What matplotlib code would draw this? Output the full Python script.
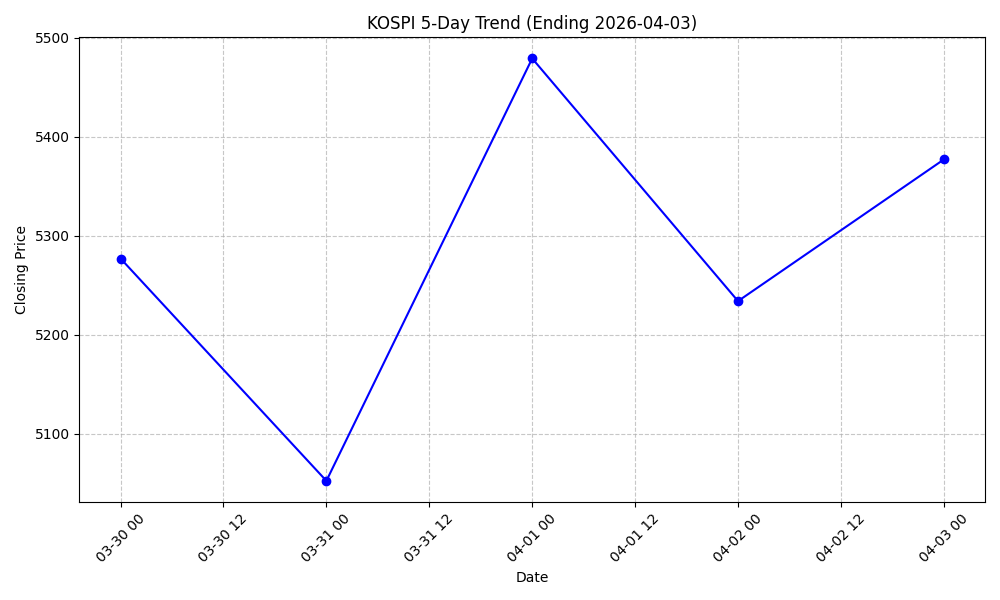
import matplotlib
matplotlib.use("Agg")
import matplotlib.pyplot as plt
import matplotlib.dates as mdates
import pandas as pd

dates = ["2026-03-30", "2026-03-31", "2026-04-01", "2026-04-02", "2026-04-03"]
closes = [5277, 5052.5, 5479, 5234, 5377]

x = pd.to_datetime(dates)
fig, ax = plt.subplots(figsize=(10, 6), dpi=100)
ax.plot(x, closes, marker="o", color="blue", linestyle="-")
ax.set_title("KOSPI 5-Day Trend (Ending 2026-04-03)")
ax.set_xlabel("Date")
ax.set_ylabel("Closing Price")
ax.grid(True, linestyle="--", alpha=0.7)
ax.xaxis.set_major_formatter(mdates.DateFormatter("%m-%d %H"))
plt.xticks(rotation=45)
plt.tight_layout()
plt.savefig("out.png")
